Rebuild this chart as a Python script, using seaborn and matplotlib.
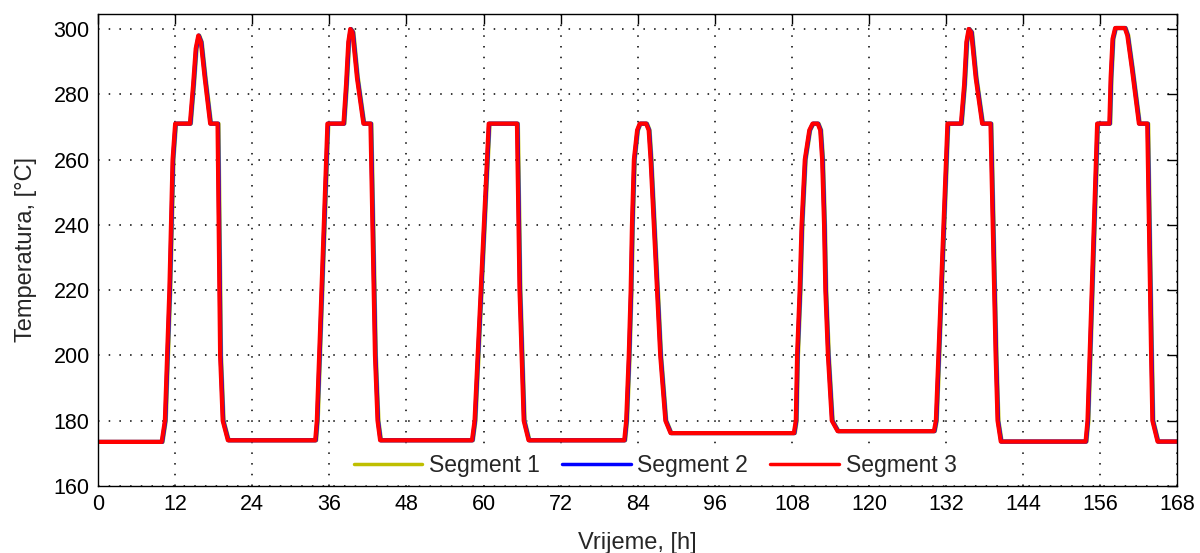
import numpy as np
import pandas as pd
import seaborn as sns
import matplotlib.pyplot as plt

# ---- data ----
# time [h] and temperature [C] at the corner points of the profile
time_h = [0, 9.9, 10.4, 11.1, 11.6, 12.0, 14.3, 14.8, 15.2, 15.6, 16.0, 16.6, 17.45, 18.6, 19.0, 19.4, 20.2,
          33.8, 34.05, 35.7, 38.2, 38.6, 38.95, 39.25, 39.6, 40.3, 41.3, 42.4, 43.1, 43.5, 43.9,
          58.2, 58.6, 60.8, 65.2, 65.6, 66.25, 67.0,
          81.9, 82.2, 82.6, 82.9, 83.1, 83.4, 83.9, 84.3, 85.3, 85.7, 86.0, 86.5, 87.0, 87.5, 88.3, 89.1,
          108.3, 108.6, 108.8, 109.2, 109.5, 110.0, 110.7, 111.2, 112.0, 112.4, 112.7, 113.0, 113.2, 113.6, 114.2, 115.1,
          130.1, 130.4, 132.2, 134.3, 134.8, 135.15, 135.5, 135.9, 136.6, 137.6, 138.9, 139.7, 140.0, 140.5,
          153.7, 154.0, 155.5, 157.4, 157.6, 157.9, 158.3, 159.8, 160.2, 160.9, 162.0, 163.3, 163.9, 164.1, 164.9, 168]
temp_c = [173.5, 173.5, 180, 220, 260, 271, 271, 283, 294, 298, 296, 285, 271, 271, 200, 180, 174,
          174, 180, 271, 271, 283, 296, 300, 299, 285, 271, 271, 200, 180, 174,
          174, 180, 271, 271, 220, 180, 174,
          174, 180, 200, 220, 240, 260, 269, 271, 271, 269, 260, 240, 220, 200, 180, 176.2,
          176.2, 180, 200, 220, 240, 260, 269, 271, 271, 269, 260, 240, 220, 200, 180, 176.8,
          176.8, 180, 271, 271, 283, 296, 300, 299, 285, 271, 271, 200, 180, 173.6,
          173.6, 180, 271, 271, 285, 297, 300.3, 300.3, 298, 288, 271, 271, 200, 180, 173.6, 173.6]

segments = ["Segment 1", "Segment 2", "Segment 3"]
seg_lag_h = [0.15, 0.08, 0.0]   # small delay of the other segments behind segment 3
seg_colors = ["#bfbf00", "#0000ff", "#ff0000"]
x_ticks = list(range(0, 169, 12))
y_ticks = list(range(160, 301, 20))

rows = []
for name, lag in zip(segments, seg_lag_h):
    for t, v in zip(time_h, temp_c):
        rows.append((name, min(t + lag, 168) if t > 0 else t, v))
df = pd.DataFrame(rows, columns=["Segment", "Vrijeme", "Temperatura"])

# ---- plot ----
sns.set_style("white")
plt.rcParams["font.family"] = ["Liberation Sans", "DejaVu Sans"]

fig = plt.figure(figsize=(12, 5.53), dpi=100)
ax = fig.add_axes([0.0817, 0.1212, 0.8995, 0.8535])

sns.lineplot(data=df, x="Vrijeme", y="Temperatura", hue="Segment",
             palette=seg_colors, estimator=None, sort=False,
             linewidth=3, ax=ax)

ax.set_xlim(0, 168)
ax.set_ylim(160, 304.6)
ax.set_xticks(x_ticks)
ax.set_yticks(y_ticks)
ax.tick_params(axis="both", direction="in", length=7, width=1, colors="black",
               labelsize=15.5, top=True, right=True, pad=6)
ax.grid(True, color="black", linestyle=(0, (1, 6)), linewidth=1.1)
for s in ax.spines.values():
    s.set_color("black")
    s.set_linewidth(1)

ax.set_xlabel("Vrijeme, [h]", fontsize=17, labelpad=12)
ax.set_ylabel("Temperatura, [°C]", fontsize=17, labelpad=12)

leg = ax.legend(loc="lower center", bbox_to_anchor=(0.516, 0.005), ncol=3,
                frameon=True, facecolor="white", edgecolor="white", framealpha=1,
                fontsize=16.5, handlelength=3.0, columnspacing=0.95,
                borderpad=0.3, borderaxespad=0, handletextpad=0.3)
for line in leg.get_lines():
    line.set_linewidth(2.5)

fig.savefig("out.png", dpi=100)
